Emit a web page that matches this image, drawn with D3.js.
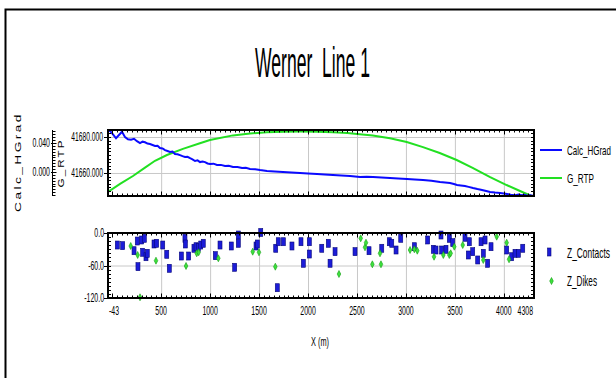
<!DOCTYPE html>
<html><head><meta charset="utf-8">
<script src="https://cdn.jsdelivr.net/npm/d3@7"></script>
<style>
body{margin:0;background:#fff}
svg{display:block}
text{font-family:"Liberation Sans",Arial,sans-serif;fill:#000}
</style></head><body>
<svg id="c" width="616" height="378"></svg>
<script>
// ---------- data ----------
const title = "Werner  Line 1";
const xTickValues = [-43,500,1000,1500,2000,2500,3000,3500,4000,4308];
const xTickLabels = ["-43","500","1000","1500","2000","2500","3000","3500","4000","4308"];
const rtpTickValues = [41680, 41660];
const rtpTickLabels = ["41680.000","41660.000"];
const hgradTickValues = [0.040, 0.000];
const hgradTickLabels = ["0.040","0.000"];
const zTickValues = [0, -60, -120];
const zTickLabels = ["0.0","-60.0","-120.0"];

const hgradX = [-43,-23,8,39,69,100,131,161,192,223,253,284,310,335,360,386,412,437,463,488,514,539,565,590,616,641,667,692,718,743,769,795,820,846,872,897,923,948,974,999,1035,1070,1110,1152,1190,1234,1280,1326,1365,1407,1460,1510,1581,1660,1744,1830,1918,2000,2092,2170,2255,2340,2429,2531,2600,2664,2750,2837,2920,3011,3090,3174,3260,3348,3400,3450,3490,3522,3560,3603,3640,3685,3730,3777,3820,3859,3910,3961,4000,4032,4070,4114,4150,4185,4210,4236,4270,4308];
const calcHGrad = [0.0566,0.0566,0.0520,0.0465,0.0510,0.0555,0.0480,0.0452,0.0445,0.0458,0.0425,0.0398,0.0418,0.0410,0.0392,0.0385,0.0372,0.0358,0.0362,0.0330,0.0325,0.0302,0.0290,0.0276,0.0282,0.0249,0.0245,0.0232,0.0218,0.0206,0.0210,0.0190,0.0175,0.0152,0.0160,0.0137,0.0145,0.0136,0.0118,0.0110,0.0115,0.0096,0.0098,0.0082,0.0086,0.0068,0.0070,0.0054,0.0058,0.0041,0.0038,0.0027,0.0014,0.0008,0.0000,-0.0006,-0.0014,-0.0020,-0.0028,-0.0034,-0.0041,-0.0047,-0.0055,-0.0068,-0.0066,-0.0070,-0.0076,-0.0083,-0.0090,-0.0097,-0.0103,-0.0110,-0.0122,-0.0138,-0.0144,-0.0152,-0.0165,-0.0179,-0.0186,-0.0193,-0.0205,-0.0221,-0.0235,-0.0248,-0.0262,-0.0276,-0.0284,-0.0290,-0.0297,-0.0303,-0.0314,-0.0320,-0.0312,-0.0322,-0.0315,-0.0326,-0.0320,-0.0331];

const rtpX = [-43,80,212,335,437,559,722,896,998,1233,1407,1580,1750,1918,2090,2253,2400,2528,2661,2837,3008,3174,3345,3518,3681,3855,4028,4165,4308];
const gRTP = [41649.4,41653.9,41658.3,41663.0,41666.8,41670.0,41673.4,41676.5,41678.3,41680.9,41682.0,41682.6,41682.9,41683.0,41682.9,41682.6,41682.2,41681.6,41680.8,41679.3,41677.2,41674.4,41671.1,41667.2,41662.8,41657.8,41653.3,41650.0,41646.6];

const contactX = [52,107,223,256,263,301,328,311,345,358,427,454,516,557,583,706,743,747,781,835,856,879,904,930,1053,1101,1216,1251,1288,1288,1469,1482,1517,1670,1696,1686,1748,1836,1928,1952,2013,2013,2140,2207,2225,2276,2480,2623,2753,2830,2855,2899,2947,3086,3222,3280,3307,3358,3365,3409,3443,3478,3603,3647,3637,3682,3733,3767,3790,3808,3835,3869,4029,4080,4114,4148,4193];
const contactZ = [-22.2,-23.4,-32.7,-14.8,-62.2,-12.9,-9.8,-35.6,-43.8,-37.5,-20.3,-19.0,-22.2,-39.3,-65.2,-42.5,-9.8,-20.3,-42.5,-28.2,-25.3,-26.4,-22.2,-19.0,-41.9,-22.2,-24.0,-63.3,-3.7,-19.0,-24.0,-20.3,1.0,-28.2,-16.1,-101.0,-16.1,-24.0,-16.1,-55.9,-16.1,-38.8,-28.2,-19.0,-55.9,-34.5,-34.5,-32.7,-28.2,-16.1,-19.0,-31.4,-9.8,-25.3,-12.9,-30.1,-31.4,-3.7,-31.4,-30.1,-9.8,-17.9,-7.9,-16.1,-40.6,-34.5,-49.8,-16.1,-37.5,-12.9,-55.9,-25.3,-31.4,-43.8,-37.5,-37.5,-28.2];

const dikeX = [189,260,447,754,863,883,1084,1435,1499,1666,284,2316,2538,2582,2592,2657,2735,2745,3042,3086,3116,3287,3382,3443,3457,3494,3580,3790,3927,4029,4053];
const dikeZ = [-24.0,-40.6,-51.1,-60.9,-37.5,-35.6,-46.7,-34.5,-35.6,-62.2,-118.7,-75.7,-9.8,-26.4,-17.9,-57.8,-37.5,-57.8,-31.4,-30.1,-32.7,-43.8,-40.6,-40.6,-37.5,-25.3,-22.2,-49.8,-6.8,-17.9,-48.5];

const lineSeries = ["Calc_HGrad","G_RTP"];
const pointSeries = ["Z_Contacts","Z_Dikes"];

// ---------- layout ----------
const svg = d3.select("#c");
const X0 = 108, X1 = 534;
const T0 = 130, T1 = 196;   // top panel
const B0 = 233, B1 = 298;   // bottom panel
const BLUE = "#0a0aff", GREEN = "#22e022", GRID = "#c8c8c8";

const x = d3.scaleLinear().domain([-43, 4308]).range([X0, X1]);
const yR = d3.scaleLinear().domain([41647.2, 41683.9]).range([T1, T0]);
const yH = d3.scaleLinear().domain([-0.0331, 0.0579]).range([T1, T0]);
const yZ = d3.scaleLinear().domain([-120, 0]).range([B1, B0]);

// text drawn at (tx,ty), horizontally scaled so that it is `width` wide (or scaled by k)
function label(parent, tx, ty, str, o) {
  const g = parent.append("g");
  const t = g.append("text").attr("font-size", o.size).attr("text-anchor", o.anchor || "start")
    .attr("fill", o.fill || "#000").style("white-space", "pre").text(str);
  if (o.ls) t.attr("letter-spacing", o.ls);
  const w = t.node().getComputedTextLength();
  const k = o.width ? o.width / w : o.k;
  g.attr("transform", `translate(${tx},${ty})` + (o.rot ? ` rotate(${o.rot})` : "") + ` scale(${k.toFixed(4)},1)`);
  return g;
}

svg.append("rect").attr("width", 616).attr("height", 378).attr("fill", "#fff");
svg.append("path").attr("d", "M5.5,378V9.5H616").attr("fill", "none").attr("stroke", "#000").attr("stroke-width", 2);

// title
label(svg, 255, 77, title, {size: 42, width: 115});

const defs = svg.append("defs");
defs.append("clipPath").attr("id", "clipT").append("rect").attr("x", X0).attr("y", T0).attr("width", X1 - X0).attr("height", T1 - T0);

// grid
const gridX = xTickValues.filter(v => v % 500 === 0);
[[T0, T1], [B0, B1]].forEach(([a, b]) => {
  svg.append("g").selectAll("line").data(gridX).join("line")
    .attr("x1", d => x(d) + 0.5).attr("x2", d => x(d) + 0.5).attr("y1", a).attr("y2", b)
    .attr("stroke", GRID).attr("stroke-width", 1);
});
svg.append("g").selectAll("line").data(rtpTickValues).join("line")
  .attr("x1", X0).attr("x2", X1).attr("y1", d => yR(d) + 0.5).attr("y2", d => yR(d) + 0.5)
  .attr("stroke", GRID);
svg.append("line").attr("x1", X0).attr("x2", X1).attr("y1", yZ(-60) + 0.5).attr("y2", yZ(-60) + 0.5).attr("stroke", GRID);

// lines
const gl = svg.append("g").attr("clip-path", "url(#clipT)");
gl.append("path").datum(rtpX.map((d, i) => [d, gRTP[i]]))
  .attr("d", d3.line().x(d => x(d[0])).y(d => yR(d[1])))
  .attr("fill", "none").attr("stroke", GREEN).attr("stroke-width", 2);
gl.append("path").datum(hgradX.map((d, i) => [d, calcHGrad[i]]))
  .attr("d", d3.line().x(d => x(d[0])).y(d => yH(d[1])))
  .attr("fill", "none").attr("stroke", BLUE).attr("stroke-width", 2);

// points
const diamond = (cx, cy) => `M${cx},${cy - 3.5}L${cx + 1.8},${cy}L${cx},${cy + 3.5}L${cx - 1.8},${cy}Z`;
svg.append("g").selectAll("rect").data(contactX.map((d, i) => [d, contactZ[i]])).join("rect")
  .attr("x", d => x(d[0]) - 2).attr("y", d => yZ(d[1]) - 4).attr("width", 4).attr("height", 8)
  .attr("fill", "#1c1cd8").attr("stroke", "#08087a").attr("stroke-width", 0.6);
svg.append("g").selectAll("path").data(dikeX.map((d, i) => [d, dikeZ[i]])).join("path")
  .attr("d", d => diamond(x(d[0]), yZ(d[1])))
  .attr("fill", "#3ce03c").attr("stroke", "#14a014").attr("stroke-width", 0.6);

// panel borders
[[T0, T1], [B0, B1]].forEach(([a, b]) => {
  svg.append("rect").attr("x", X0).attr("y", a).attr("width", X1 - X0).attr("height", b - a)
    .attr("fill", "none").attr("stroke", "#000").attr("stroke-width", 2);
});

// ticks
const tk = svg.append("g").attr("stroke", "#000").attr("stroke-width", 1);
const minorX = d3.range(0, 4301, 50);
[[T0, T1], [B0, B1]].forEach(([a, b]) => {
  minorX.forEach(v => {
    const L = v % 500 === 0 ? 4.5 : 2.5, px = Math.round(x(v)) + 0.5;
    tk.append("line").attr("x1", px).attr("x2", px).attr("y1", a).attr("y2", a + L);
    tk.append("line").attr("x1", px).attr("x2", px).attr("y1", b).attr("y2", b - L);
  });
});
d3.range(41648, 41684, 2).forEach(v => {
  const py = Math.round(yR(v)) + 0.5;
  tk.append("line").attr("x1", X0).attr("x2", X0 + 3).attr("y1", py).attr("y2", py);
  tk.append("line").attr("x1", X1 - 3).attr("x2", X1).attr("y1", py).attr("y2", py);
});
rtpTickValues.forEach(v => {
  const py = Math.round(yR(v)) + 0.5;
  tk.append("line").attr("x1", X0 - 4).attr("x2", X0).attr("y1", py).attr("y2", py);
});
d3.range(-120, 0.1, 7.5).forEach(v => {
  const py = Math.round(yZ(v)) + 0.5;
  tk.append("line").attr("x1", X0).attr("x2", X0 + 3).attr("y1", py).attr("y2", py);
  tk.append("line").attr("x1", X1 - 3).attr("x2", X1).attr("y1", py).attr("y2", py);
});
zTickValues.forEach(v => {
  const py = Math.round(yZ(v)) + 0.5;
  tk.append("line").attr("x1", X0 - 4).attr("x2", X0).attr("y1", py).attr("y2", py);
});
const HX = 52.5;
tk.append("line").attr("x1", HX).attr("x2", HX).attr("y1", T0).attr("y2", T1);
d3.range(-0.032, 0.058, 0.004).forEach(v => {
  const py = Math.round(yH(v)) + 0.5;
  tk.append("line").attr("x1", HX).attr("x2", HX + 3).attr("y1", py).attr("y2", py);
});
hgradTickValues.forEach(v => {
  const py = Math.round(yH(v)) + 0.5;
  tk.append("line").attr("x1", HX - 1.5).attr("x2", HX + 4).attr("y1", py).attr("y2", py);
});

// tick labels
const K = 0.58, FS = 12, TC = "#222";
const tl = svg.append("g");
xTickValues.forEach((d, i) => {
  const last = i === xTickValues.length - 1;
  label(tl, i === 0 ? X0 + 1 : (last ? X1 - 1 : x(d)), 315, xTickLabels[i],
    {size: FS, k: K, fill: TC, anchor: i === 0 ? "start" : (last ? "end" : "middle")});
});
rtpTickValues.forEach((d, i) => label(tl, 103, yR(d) + 4.2, rtpTickLabels[i], {size: FS, k: 0.56, fill: TC, anchor: "end"}));
hgradTickValues.forEach((d, i) => label(tl, 50, yH(d) + 4.2, hgradTickLabels[i], {size: FS, k: K, fill: TC, anchor: "end"}));
zTickValues.forEach((d, i) => label(tl, 104, yZ(d) + 4.2, zTickLabels[i], {size: FS, k: K, fill: TC, anchor: "end"}));

// axis titles
label(svg, 20.5, 162, "Calc_HGrad", {size: 8.5, width: 100, rot: -90, anchor: "middle", fill: "#666", ls: 1.5});
label(svg, 64, 163, "G_RTP", {size: 8.5, width: 49, rot: -90, anchor: "middle", fill: "#666", ls: 1.5});
label(svg, 320, 346, "X (m)", {size: 13, width: 18, anchor: "middle", fill: "#222"});

// legends
const legLines = [[150, BLUE], [178, GREEN]];
lineSeries.forEach((s, i) => {
  const [ly, c] = legLines[i];
  svg.append("line").attr("x1", 540).attr("x2", 562).attr("y1", ly).attr("y2", ly).attr("stroke", c).attr("stroke-width", 2);
  label(svg, 567, ly + 4.5, s, {size: 13, width: i === 0 ? 44 : 27, fill: "#222"});
});
svg.append("rect").attr("x", 547.5).attr("y", 248).attr("width", 3.5).attr("height", 8)
  .attr("fill", "#1c1cd8").attr("stroke", "#08087a").attr("stroke-width", 0.6);
svg.append("path").attr("d", diamond(551.5, 281)).attr("fill", "#3ce03c").attr("stroke", "#14a014").attr("stroke-width", 0.6);
label(svg, 567, 258, pointSeries[0], {size: 14, width: 43, fill: "#222"});
label(svg, 567, 286, pointSeries[1], {size: 14, width: 30, fill: "#222"});
</script>
</body></html>
